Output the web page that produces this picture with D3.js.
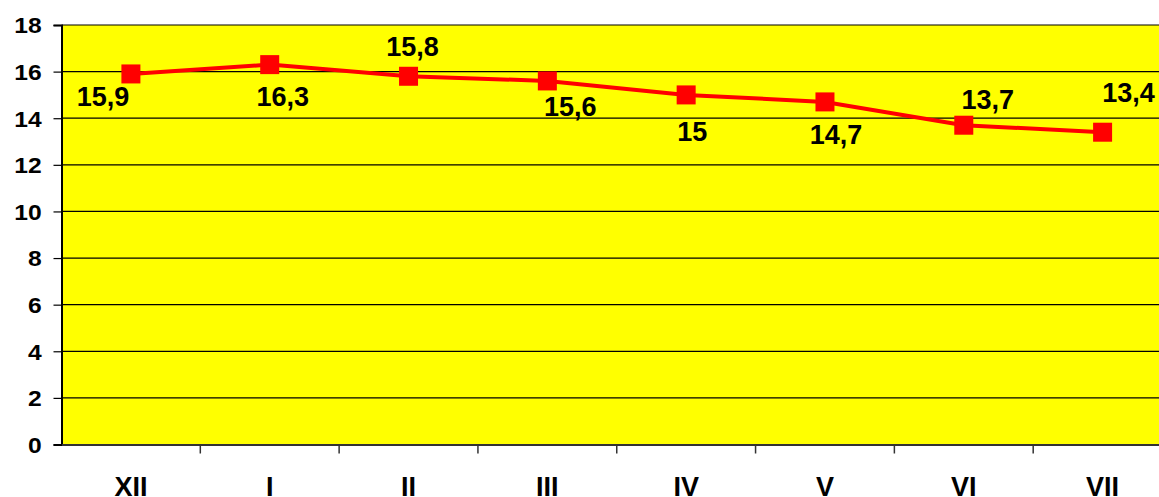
<!DOCTYPE html>
<html>
<head>
<meta charset="utf-8">
<script src="https://cdn.jsdelivr.net/npm/d3@7"></script>
<style>
    html, body { margin: 0; padding: 0; background: #fff; overflow: hidden; }
    svg { display: block; font-family: "Liberation Sans", Arial, sans-serif; font-weight: bold; }
</style>
</head>
<body>
<svg id="chart" width="1159" height="497"></svg>
<script>
/* data */
var MONTHS = ["XII", "I", "II", "III", "IV", "V", "VI", "VII"];
var VALUES = [15.9, 16.3, 15.8, 15.6, 15, 14.7, 13.7, 13.4];
var VALUE_LABELS = ["15,9", "16,3", "15,8", "15,6", "15", "14,7", "13,7", "13,4"];
var Y_TICKS = [0, 2, 4, 6, 8, 10, 12, 14, 16, 18];

/* hand-placed label offsets (dx, dy from the marker centre to label baseline) */
var LABEL_OFFSETS = [[-28, 32], [13, 41], [4, -20], [23, 35], [6, 46], [11, 42], [24, -16], [26, -30]];

var svg = d3.select("#chart");
var plot = {left: 61.5, top: 25, right: 1172, bottom: 444.5};

var x = d3.scaleBand().domain(MONTHS).range([plot.left, plot.right]);
var y = d3.scaleLinear().domain([0, 18]).range([plot.bottom, plot.top]);

/* plot background */
svg.append("rect")
    .attr("x", plot.left)
    .attr("y", plot.top)
    .attr("width", plot.right - plot.left)
    .attr("height", plot.bottom - plot.top)
    .attr("fill", "#ffff00");

/* gridlines */
svg.append("g").selectAll("line")
    .data(Y_TICKS.filter(function(t){ return t > 0; }))
    .enter().append("line")
    .attr("x1", plot.left)
    .attr("x2", plot.right)
    .attr("y1", function(d){ return y(d); })
    .attr("y2", function(d){ return y(d); })
    .attr("stroke", "#000")
    .attr("stroke-width", 1.2);

/* y axis */
var yAxis = svg.append("g")
    .attr("transform", "translate(" + plot.left + ",0)")
    .call(d3.axisLeft(y).tickValues(Y_TICKS).tickSize(8).tickPadding(14));
yAxis.select(".domain").attr("stroke", "#000").attr("stroke-width", 2);
yAxis.selectAll(".tick line").attr("stroke", "#000").attr("stroke-width", 1.2);
yAxis.selectAll(".tick text")
    .attr("fill", "#000")
    .style("font-size", "22px")
    .style("font-weight", "bold")
    .attr("dy", "0.36em")
    .attr("transform", "translate(-40,0) scale(1.12,1) translate(40,0)");

/* x axis */
var xAxis = svg.append("g")
    .attr("transform", "translate(0," + plot.bottom + ")")
    .call(d3.axisBottom(x).tickSize(0).tickPadding(0).tickFormat(""));
xAxis.select(".domain").attr("stroke", "#333").attr("stroke-width", 2);

svg.append("g").selectAll("line")
    .data(MONTHS.slice(1))
    .enter().append("line")
    .attr("x1", function(d){ return x(d); })
    .attr("x2", function(d){ return x(d); })
    .attr("y1", plot.bottom)
    .attr("y2", plot.bottom + 9)
    .attr("stroke", "#333")
    .attr("stroke-width", 1.5);

svg.append("g").selectAll("text")
    .data(MONTHS)
    .enter().append("text")
    .attr("x", function(d){ return x(d) + x.bandwidth() / 2; })
    .attr("y", 496)
    .attr("text-anchor", "middle")
    .style("font-size", "27px")
    .text(function(d){ return d; });

/* series line */
var line = d3.line()
    .x(function(d, i){ return x(MONTHS[i]) + x.bandwidth() / 2; })
    .y(function(d){ return y(d); });

svg.append("path")
    .datum(VALUES)
    .attr("d", line)
    .attr("fill", "none")
    .attr("stroke", "#ff0000")
    .attr("stroke-width", 4);

/* markers */
var markerSize = 19;
svg.append("g").selectAll("rect")
    .data(VALUES)
    .enter().append("rect")
    .attr("x", function(d, i){ return x(MONTHS[i]) + x.bandwidth() / 2 - markerSize / 2; })
    .attr("y", function(d){ return y(d) - markerSize / 2; })
    .attr("width", markerSize)
    .attr("height", markerSize)
    .attr("fill", "#ff0000");

/* value labels */
svg.append("g").selectAll("text")
    .data(VALUES)
    .enter().append("text")
    .attr("x", function(d, i){ return x(MONTHS[i]) + x.bandwidth() / 2 + LABEL_OFFSETS[i][0]; })
    .attr("y", function(d, i){ return y(d) + LABEL_OFFSETS[i][1]; })
    .attr("text-anchor", "middle")
    .style("font-size", "27px")
    .attr("fill", "#000")
    .text(function(d, i){ return VALUE_LABELS[i]; });
</script>
</body>
</html>
